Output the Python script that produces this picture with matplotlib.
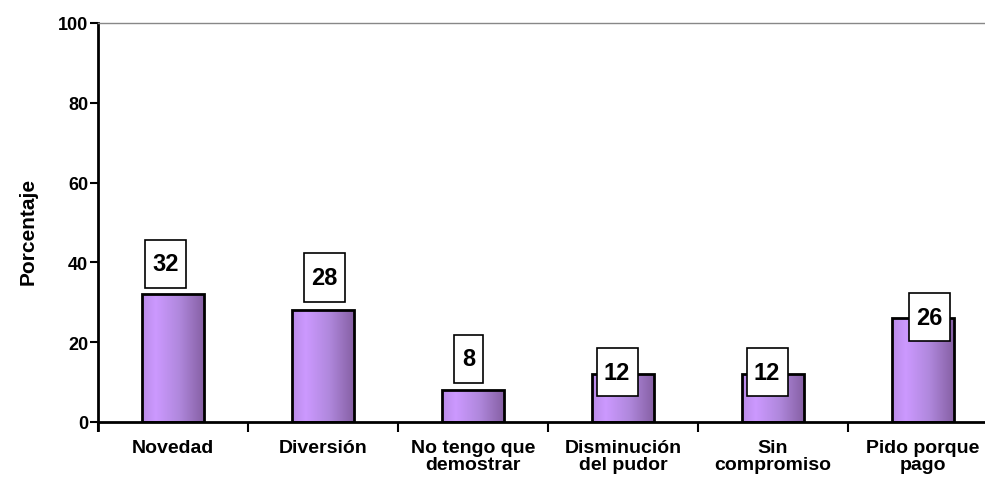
import matplotlib.pyplot as plt
import numpy as np
from matplotlib.colors import LinearSegmentedColormap
from matplotlib.patches import Rectangle

plt.rcParams['font.family'] = ['Liberation Sans', 'DejaVu Sans']
plt.rcParams['font.weight'] = 'bold'

# datos
categorias = ['Novedad', 'Diversión', 'No tengo que\ndemostrar',
              'Disminución\ndel pudor', 'Sin\ncompromiso', 'Pido porque\npago']
valores = [32, 28, 8, 12, 12, 26]
# desplazamiento de la etiqueta respecto a la barra
desplaz_etiqueta = [7.6, 8.3, 7.8, 0.5, 0.5, 0.3]
desplaz_x = [-0.05, 0.01, -0.03, -0.04, -0.04, 0.04]

fig = plt.figure(figsize=(9.85, 4.81), dpi=100)
ax = fig.add_axes([98 / 985, 58 / 481, 900 / 985, 399 / 481])

x = np.arange(len(valores))
ancho = 0.41

# degradado lila
cmap = LinearSegmentedColormap.from_list(
    'lila', [(0.0, '#b98ae8'), (0.22, '#cc99ff'), (0.6, '#b088dd'), (1.0, '#8660a4')])
grad = np.linspace(0, 1, 256).reshape(1, -1)

barras = ax.bar(x, valores, width=ancho, color='none', edgecolor='black',
                linewidth=2, zorder=3)
for b in barras:
    x0, y0 = b.get_x(), b.get_y()
    w, h = b.get_width(), b.get_height()
    im = ax.imshow(grad, cmap=cmap, aspect='auto', extent=[x0, x0 + w, y0, y0 + h],
                   zorder=2)
    im.set_clip_path(b)

# etiquetas con recuadro (ancho segun numero de cifras)
bh = 12.2
for i, v in enumerate(valores):
    cx = x[i] + desplaz_x[i]
    cy = v + desplaz_etiqueta[i]
    bw = (16 + 12.5 * len(str(v))) / 150
    ax.add_patch(Rectangle((cx - bw / 2, cy - bh / 2), bw, bh, facecolor='white',
                           edgecolor='black', linewidth=1.2, zorder=4))
    ax.text(cx, cy, str(v), ha='center', va='center', fontsize=17,
            fontweight='bold', zorder=5)

ax.set_xlim(-0.5, len(valores) - 0.5)
ax.set_ylim(0, 100)
ax.set_yticks(range(0, 101, 20))
ax.set_xticks(x)
ax.set_xticklabels(categorias, fontsize=14, fontweight='bold', linespacing=1.0)
ax.set_xticks(np.arange(-0.5, len(valores), 1.0), minor=True)
ax.tick_params(axis='x', which='major', length=0, pad=12)
ax.tick_params(axis='x', which='minor', length=7, width=1.5, direction='out')
ax.tick_params(axis='y', length=6, width=1.5, direction='out', labelsize=13, pad=1)
for t in ax.get_yticklabels():
    t.set_fontweight('bold')

ax.spines['left'].set_linewidth(2)
ax.spines['bottom'].set_linewidth(2)
ax.spines['top'].set_color('#888888')
ax.spines['top'].set_linewidth(1)
ax.spines['right'].set_visible(False)
ax.spines['left'].set_bounds(-2, 100)

ax.set_ylabel('Porcentaje', fontsize=15, fontweight='bold')
ax.yaxis.set_label_coords(-0.067, 0.48)

fig.savefig('out.png', dpi=100)
